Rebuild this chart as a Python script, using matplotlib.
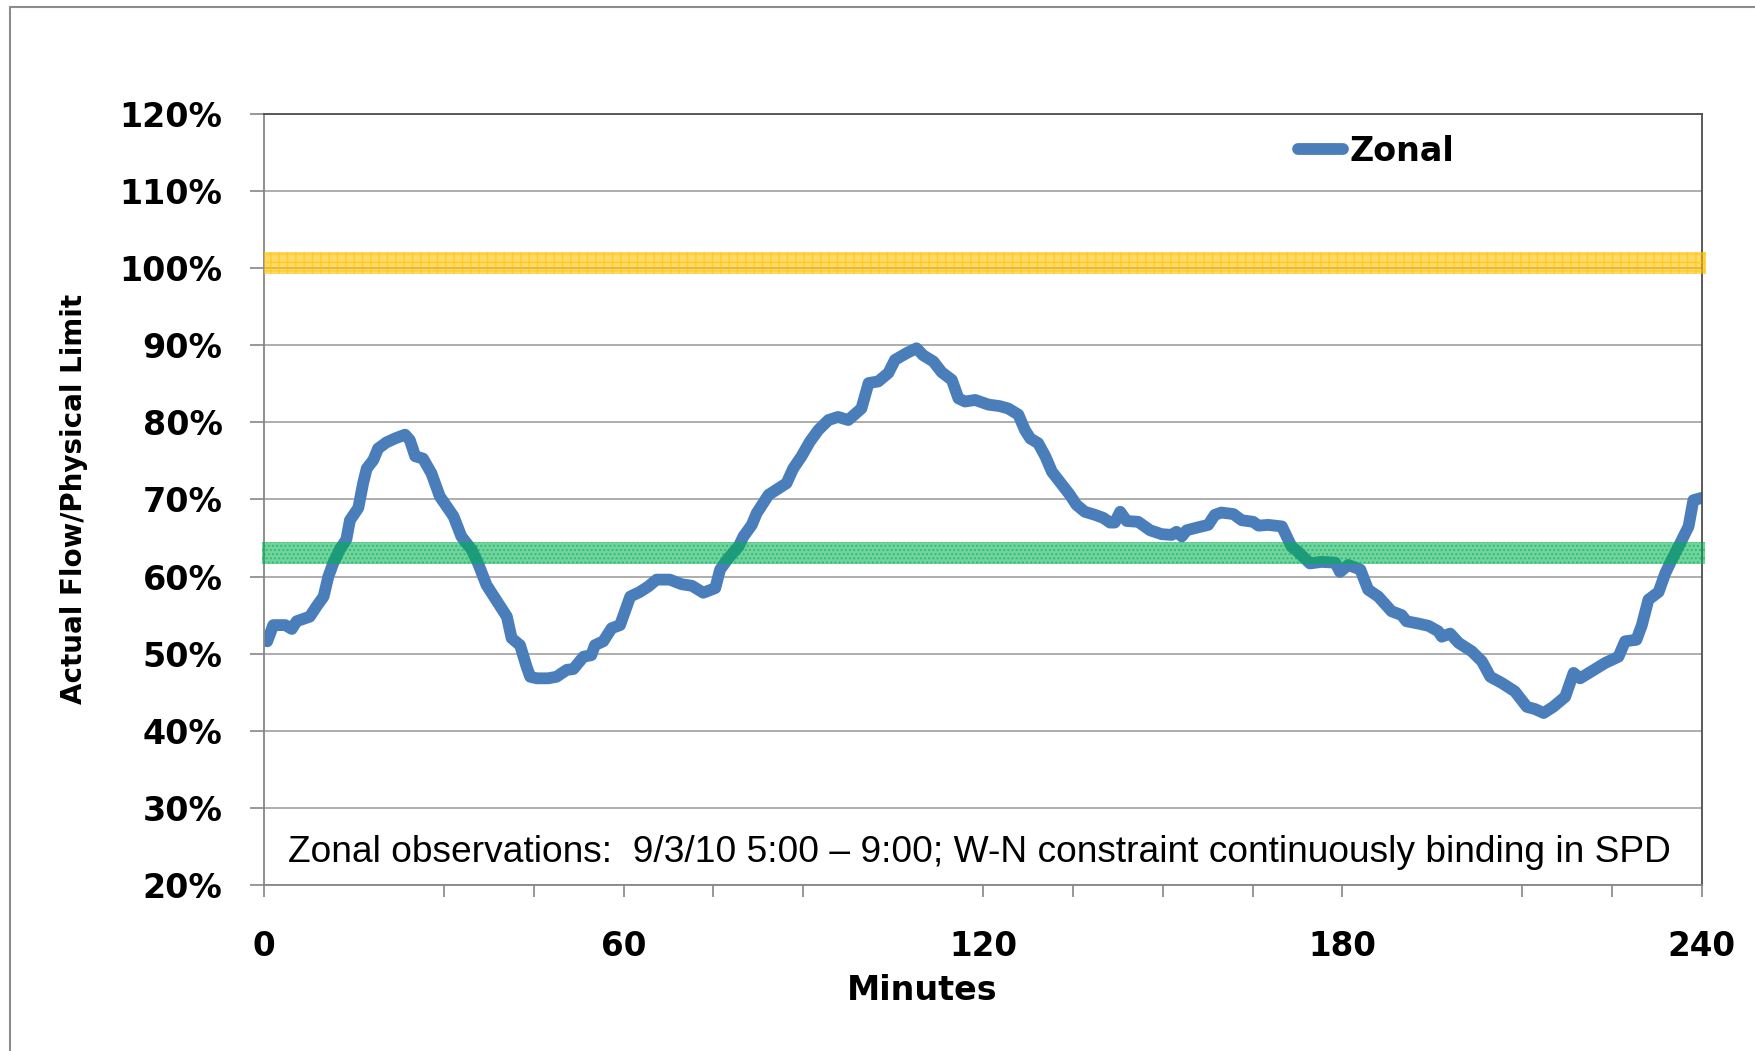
import matplotlib
matplotlib.use("Agg")
import matplotlib.pyplot as plt
from matplotlib.patches import Rectangle

# Zonal flow as share of physical limit
minutes = [0.5, 1.5, 3.5, 4.6, 5.4, 7.6, 8.7, 9.9, 10.7, 11.5, 12.6, 13.7, 14.3, 15.7,
           16.5, 17.1, 18.2, 19.0, 20.4, 21.8, 23.5, 24.3, 25.2, 26.5, 27.9, 29.3, 31.6,
           32.9, 34.6, 35.7, 37.1, 39.1, 40.5, 41.3, 42.7, 43.8, 44.4, 45.5, 47.4, 48.8,
           50.5, 51.6, 53.3, 54.6, 55.2, 56.6, 58.0, 59.4, 61.1, 62.7, 64.1, 65.5, 67.7,
           69.7, 71.4, 73.3, 75.3, 76.1, 77.5, 79.2, 80.0, 81.4, 82.2, 84.2, 87.2, 88.3,
           89.7, 91.1, 92.5, 94.2, 95.8, 97.5, 99.7, 100.9, 102.5, 104.2, 105.3, 107.3,
           108.9, 110.0, 111.7, 113.1, 114.8, 115.9, 117.0, 118.7, 120.9, 122.8, 124.2,
           125.9, 127.0, 127.9, 129.2, 130.4, 131.5, 133.4, 134.5, 135.6, 137.0, 138.7,
           140.1, 141.2, 142.0, 142.9, 144.0, 145.9, 147.9, 149.8, 151.5, 152.3, 153.2,
           154.0, 156.0, 157.6, 158.7, 159.8, 161.8, 163.2, 165.1, 166.0, 167.6, 169.9,
           170.7, 171.5, 172.6, 174.6, 176.5, 178.8, 179.6, 181.0, 183.0, 184.3, 186.0,
           188.2, 189.9, 190.7, 192.7, 194.4, 196.0, 196.6, 198.0, 199.4, 201.6, 203.3,
           204.7, 206.6, 208.8, 210.8, 212.2, 213.6, 215.2, 217.2, 218.6, 219.7, 221.6,
           223.9, 226.1, 227.2, 229.1, 230.0, 231.1, 232.8, 233.9, 235.0, 236.4, 237.8,
           238.6, 240.0]
zonal = [51.6, 53.7, 53.7, 53.2, 54.2, 54.8, 56.1, 57.4, 60.0, 61.7, 63.5, 64.8, 67.3, 68.9,
         72.1, 74.0, 75.1, 76.6, 77.4, 77.9, 78.4, 77.7, 75.6, 75.3, 73.4, 70.4, 67.8,
         65.2, 63.5, 61.7, 58.9, 56.5, 54.8, 52.0, 51.1, 48.3, 47.0, 46.8, 46.8, 47.0,
         47.9, 48.0, 49.6, 49.8, 51.1, 51.6, 53.3, 53.7, 57.4, 58.0, 58.7, 59.6, 59.6,
         59.0, 58.8, 57.9, 58.5, 60.9, 62.4, 63.9, 65.2, 66.7, 68.2, 70.6, 72.1, 74.0,
         75.6, 77.5, 79.0, 80.3, 80.7, 80.3, 81.8, 85.1, 85.3, 86.4, 88.1, 89.0,
         89.6, 88.7, 87.9, 86.5, 85.5, 83.1, 82.7, 82.9, 82.3, 82.1, 81.8,
         81.0, 79.0, 77.9, 77.3, 75.6, 73.6, 71.7, 70.6, 69.3, 68.4, 68.0,
         67.6, 67.0, 67.0, 68.4, 67.2, 67.1, 66.0, 65.5, 65.4, 65.8, 65.2,
         66.0, 66.4, 66.7, 68.0, 68.3, 68.1, 67.3, 67.1, 66.6, 66.7, 66.5,
         65.2, 63.9, 63.2, 61.7, 61.9, 61.8, 60.6, 61.5, 60.9, 58.3, 57.4,
         55.5, 55.0, 54.2, 53.9, 53.6, 52.9, 52.2, 52.6, 51.4, 50.3, 49.0,
         47.0, 46.2, 45.1, 43.1, 42.8, 42.3, 43.1, 44.4, 47.5, 46.8, 47.7,
         48.8, 49.6, 51.6, 51.8, 53.7, 57.0, 58.0, 60.4, 62.2, 64.3, 66.5,
         69.9, 70.2]

yticks = [20, 30, 40, 50, 60, 70, 80, 90, 100, 110, 120]
ytick_labels = ["20%", "30%", "40%", "50%", "60%", "70%", "80%", "90%", "100%", "110%", "120%"]
xtick_marks = [0, 30, 45, 60, 75, 90, 120, 135, 150, 165, 180, 210, 225, 240]
xtick_labels = ["0", "", "", "60", "", "", "120", "", "", "", "180", "", "", "240"]

green_band = (61.6, 64.5)
yellow_band = (99.3, 102.1)

note = "Zonal observations:  9/3/10 5:00 \u2013 9:00; W-N constraint continuously binding in SPD"

plt.rcParams['font.family'] = ['DejaVu Sans']

fig = plt.figure(figsize=(17.56, 10.51), dpi=100)
ax = fig.add_axes([0.1505, 0.158, 0.8186, 0.7336])

# outer chart frame (runs off the right/bottom edge)
fig.patches.append(Rectangle((0.0055, -0.05), 1.1, 1.0431, transform=fig.transFigure,
                             fill=False, edgecolor="#8c8c8c", linewidth=1.5))

ax.plot(minutes, zonal, color="#4A7EBB", linewidth=8.5, solid_capstyle="round",
        solid_joinstyle="round", label="Zonal", zorder=2)

ax.axhspan(*yellow_band, xmin=0, xmax=1.003, facecolor="#FFC000", edgecolor="#FFC000",
           hatch="++", linewidth=0, alpha=0.6, clip_on=False, zorder=3)
ax.axhspan(*green_band, xmin=-0.0015, xmax=1.002, facecolor="#00B050", edgecolor="#00B050",
           hatch="....", linewidth=0, alpha=0.55, clip_on=False, zorder=3)

ax.set_xlim(0, 240)
ax.set_ylim(20, 120)
ax.set_yticks(yticks)
ax.set_yticklabels(ytick_labels, fontsize=24, fontweight="bold")
ax.set_xticks(xtick_marks)
ax.set_xticklabels(xtick_labels, fontsize=23.5, fontweight="bold")
ax.tick_params(axis="y", length=10, width=1.2, color="#868686", pad=20)
ax.tick_params(axis="x", length=8.5, width=1.2, color="#868686", pad=24)

ax.set_axisbelow(True)
ax.grid(axis="y", color="#A0A0A0", linewidth=1.2)
ax.spines["left"].set_color("#868686")
ax.spines["bottom"].set_color("#868686")
ax.spines["top"].set_color("#4d4d4d")
ax.spines["right"].set_color("#4d4d4d")
for s in ax.spines.values():
    s.set_linewidth(1.3)

ax.set_ylabel("Actual Flow/Physical Limit", fontsize=20, fontweight="bold", va="center")
ax.yaxis.set_label_coords(-0.1324, 0.5)
ax.set_xlabel("Minutes", fontsize=24, fontweight="bold", va="center")
ax.xaxis.set_label_coords(0.4574, -0.1375)

ax.text(0.4976, 0.0293, note, transform=ax.transAxes, ha="center", va="baseline",
        fontsize=26.7, family=["Liberation Sans", "DejaVu Sans"])

ax.legend(loc="center left", bbox_to_anchor=(0.7389, 0.8563), bbox_transform=fig.transFigure,
          frameon=False, prop={"weight": "bold", "size": 24},
          handlelength=1.35, handletextpad=0.2, borderpad=0, borderaxespad=0)

fig.savefig("out.png", dpi=100)
